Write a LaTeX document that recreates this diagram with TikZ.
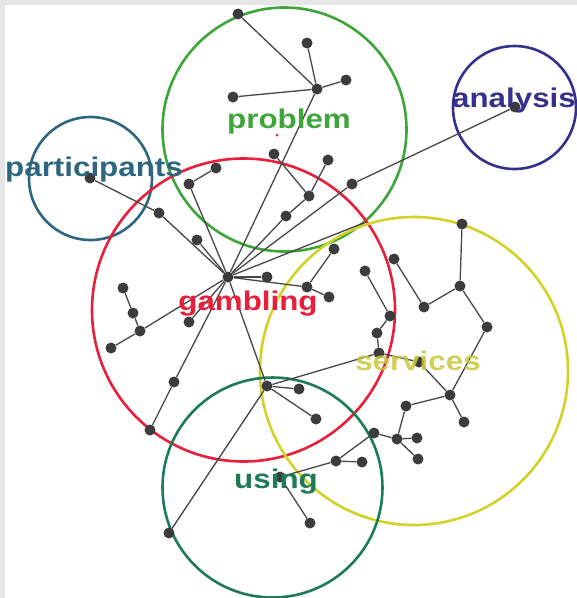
\documentclass[tikz,border=0pt]{standalone}
\usepackage{fontspec}
\newfontfamily\tagfont[FakeStretch=1.16]{Liberation Sans}
\usetikzlibrary{backgrounds}
\definecolor{probgreen}{HTML}{3CA638}
\definecolor{partteal}{HTML}{2C6680}
\definecolor{analblue}{HTML}{35308A}
\definecolor{gambred}{HTML}{E81F3A}
\definecolor{servyellow}{HTML}{D2D228}
\definecolor{servtext}{HTML}{C8C83C}
\definecolor{usegreen}{HTML}{1E7C55}
\definecolor{dotgrey}{HTML}{3C3C3C}
\definecolor{pagegrey}{HTML}{E6E6E6}
\tikzset{
  ring/.style={circle, draw, line width=2.6pt, inner sep=0pt, outer sep=0pt},
  dot/.style={circle, fill=dotgrey, inner sep=0pt, minimum size=11pt},
  link/.style={draw=black!72, line width=1.3pt},
  tag/.style={font=\tagfont\bfseries\fontsize{27}{30}\selectfont, anchor=base, inner sep=0pt},
}

\begin{document}
\begin{tikzpicture}[x=1pt, y=-1pt]
\useasboundingbox (0,0) rectangle (577,598);
% page and topic circles
\begin{scope}[on background layer]
\fill[pagegrey] (0,0) rectangle (577,598);
\fill[white] (5,5) rectangle (577,598);
\node[ring, draw=probgreen, minimum size=244pt] (problemring) at (284.5,129.5) {};
\node[ring, draw=partteal, minimum size=123pt] (partring) at (90.5,178.5) {};
\node[ring, draw=analblue, minimum size=123pt] (analring) at (514.5,107.5) {};
\node[ring, draw=gambred, minimum size=303pt] (gambring) at (243.5,310) {};
\node[ring, draw=servyellow, minimum size=308pt] (servring) at (414,371) {};
\node[ring, draw=usegreen, minimum size=220pt] (usering) at (272.5,487.5) {};
\end{scope}
% problem cluster
\node[dot] (ptop) at (238,14) {};
\node[dot] (pup) at (307,43) {};
\node[dot] (phub) at (317,89) {};
\node[dot] (pright) at (346,80) {};
\node[dot] (pleft) at (233,97) {};
\node[dot] (plow) at (274,154) {};
\node[dot] (plowr) at (328,160) {};
\node[dot] (pmid) at (309,196) {};
\node[dot] (pmidb) at (286,216) {};
\node[circle, fill=gambred, inner sep=0pt, minimum size=3pt] (pmark) at (277,135) {};
% gambling hub and its branches
\node[dot] (ghub) at (228,277) {};
\node[dot] (pa) at (90,178) {};
\node[dot] (pa1) at (159,213) {};
\node[dot] (pa2) at (197,240) {};
\node[dot] (gk1) at (189,184) {};
\node[dot] (gk2) at (216,168) {};
\node[dot] (an) at (515,107) {};
\node[dot] (an1) at (352,184) {};
\coordinate (gend) at (366,222);
\node[dot] (gr1) at (267,277) {};
\node[dot] (gr2) at (307,287) {};
\node[dot] (gr3) at (329,297) {};
\node[dot] (gr4) at (334,249) {};
\node[dot] (gl1) at (123,288) {};
\node[dot] (gl2) at (133,313) {};
\node[dot] (gl3) at (140,331) {};
\node[dot] (gl4) at (111,348) {};
\node[dot] (gl5) at (189,322) {};
\node[dot] (gl6) at (174,382) {};
\node[dot] (gl7) at (150,430) {};
% using cluster
\node[dot] (u0) at (169,533) {};
\node[dot] (u1) at (267,386) {};
\node[dot] (u2) at (299,389) {};
\node[dot] (u3) at (316,419) {};
\node[dot] (u4) at (280,477) {};
\node[dot] (u5) at (310,523) {};
\node[dot] (u6) at (336,461) {};
\node[dot] (u7) at (362,462) {};
% services cluster
\node[dot] (s1) at (365,271) {};
\node[dot] (s2) at (390,316) {};
\node[dot] (s3) at (377,333) {};
\node[dot] (s4) at (379,353) {};
\node[dot] (s5) at (394,259) {};
\node[dot] (s6) at (424,307) {};
\node[dot] (s7) at (460,286) {};
\node[dot] (s8) at (462,224) {};
\node[dot] (s9) at (487,327) {};
\node[dot] (s10) at (450,395) {};
\node[dot] (s11) at (464,422) {};
\node[dot] (s12) at (406,406) {};
\node[dot] (s13) at (419,362) {};
\node[dot] (s14) at (397,439) {};
\node[dot] (s15) at (417,438) {};
\node[dot] (s16) at (418,459) {};
\node[dot] (s17) at (374,433) {};
% links
\begin{scope}[on background layer]
\foreach \a/\b in {ptop/phub, pup/phub, pright/phub, pleft/phub, phub/ghub,
    plow/pmid, plowr/pmid, pmid/pmidb, pmidb/ghub,
    pa/pa1, pa1/ghub, pa2/ghub, gk1/gk2, gk1/ghub,
    an/an1, an1/ghub, ghub/gend,
    ghub/gr1, ghub/gr2, gr2/gr3, gr2/gr4,
    gl1/gl2, gl2/gl3, gl3/gl4, gl3/ghub, gl5/ghub, gl6/ghub, gl6/gl7,
    ghub/u1, u1/u0, u1/u2, u1/u3, u1/s4,
    u4/u5, u4/u6, u6/u7, u6/s17,
    s17/s14, s14/s15, s14/s16, s14/s12, s12/s10, s10/s11, s10/s9, s10/s13, s13/s4,
    s9/s7, s7/s8, s7/s6, s6/s5, s4/s3, s3/s2, s2/s1}
  \draw[link] (\a) -- (\b);
\end{scope}
% topic labels
\node[tag, text=probgreen] (problemtag) at (289,128) {problem};
\node[tag, text=partteal] (parttag) at (94,176) {participants};
\node[tag, text=analblue] (analtag) at (514,107) {analysis};
\node[tag, text=gambred] (gambtag) at (248,310) {gambling};
\node[tag, text=servtext, opacity=0.85] (servtag) at (418,370) {services};
\node[tag, text=usegreen] (usetag) at (276,488) {using};
\end{tikzpicture}
\end{document}
